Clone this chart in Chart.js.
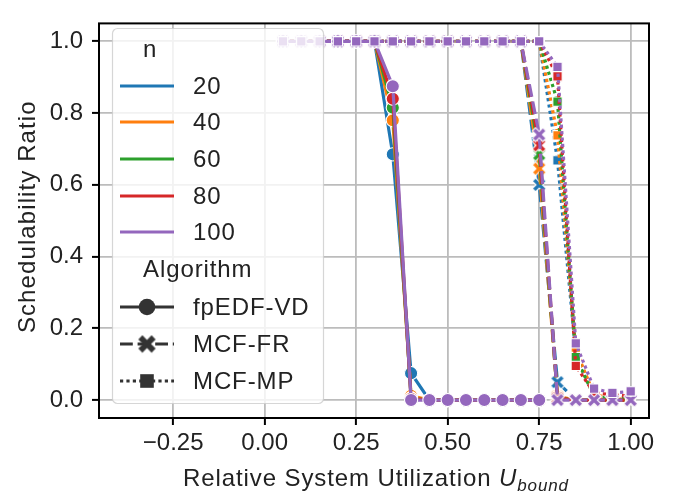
<!DOCTYPE html>
<html>
<head>
<meta charset="utf-8">
<script src="https://cdn.jsdelivr.net/npm/chart.js@4.4.0/dist/chart.umd.min.js"></script>
<style>
html,body{margin:0;padding:0;background:#fff;}
#wrap{position:relative;width:677px;height:494px;overflow:hidden;}
#c{display:block;}
#xtitle{position:absolute;left:101px;width:550px;top:466px;text-align:center;
  font-family:"Liberation Sans",Arial,sans-serif;font-size:24px;line-height:24px;color:#222;letter-spacing:0.9px;white-space:nowrap;}
#xtitle sub{font-size:17px;vertical-align:-5px;line-height:0;}
</style>
</head>
<body>
<div id="wrap">
<canvas id="c" width="677" height="494"></canvas>
<div id="xtitle">Relative System Utilization <i>U<sub>bound</sub></i></div>
</div>
<script>
// ---------------- data ----------------
const utilization = [0.05,0.10,0.15,0.20,0.25,0.30,0.35,0.40,0.45,0.50,0.55,0.60,0.65,0.70,0.75,0.80,0.85,0.90,0.95,1.00];
const utilizationVD = [0.05,0.10,0.15,0.20,0.25,0.30,0.35,0.40,0.45,0.50,0.55,0.60,0.65,0.70,0.75];
const nLabels = ['20','40','60','80','100'];
const algorithms = ['fpEDF-VD','MCF-FR','MCF-MP'];

// fpEDF-VD (circles, solid)
const vd20  = [1,1,1,1,1,1,0.685,0.075,0,0,0,0,0,0,0];
const vd40  = [1,1,1,1,1,1,0.780,0.012,0,0,0,0,0,0,0];
const vd60  = [1,1,1,1,1,1,0.815,0.005,0,0,0,0,0,0,0];
const vd80  = [1,1,1,1,1,1,0.840,0.004,0,0,0,0,0,0,0];
const vd100 = [1,1,1,1,1,1,0.875,0.000,0,0,0,0,0,0,0];
// MCF-FR (X markers, dashed)
const fr20  = [1,1,1,1,1,1,1,1,1,1,1,1,1,1,0.600,0.050,0,0,0,0];
const fr40  = [1,1,1,1,1,1,1,1,1,1,1,1,1,1,0.645,0.010,0,0,0,0];
const fr60  = [1,1,1,1,1,1,1,1,1,1,1,1,1,1,0.685,0.005,0,0,0,0];
const fr80  = [1,1,1,1,1,1,1,1,1,1,1,1,1,1,0.710,0.005,0,0,0,0];
const fr100 = [1,1,1,1,1,1,1,1,1,1,1,1,1,1,0.740,0.000,0,0,0,0];
// MCF-MP (squares, dotted)
const mp20  = [1,1,1,1,1,1,1,1,1,1,1,1,1,1,1,0.668,0.130,0.010,0.000,0.000];
const mp40  = [1,1,1,1,1,1,1,1,1,1,1,1,1,1,1,0.738,0.140,0.015,0.005,0.000];
const mp60  = [1,1,1,1,1,1,1,1,1,1,1,1,1,1,1,0.832,0.120,0.010,0.005,0.005];
const mp80  = [1,1,1,1,1,1,1,1,1,1,1,1,1,1,1,0.902,0.095,0.020,0.015,0.010];
const mp100 = [1,1,1,1,1,1,1,1,1,1,1,1,1,1,1,0.929,0.158,0.032,0.020,0.024];

const xTickValues = [-0.25,0,0.25,0.5,0.75,1.0];
const xTickLabels = ['\u22120.25','0.00','0.25','0.50','0.75','1.00'];
const yTickValues = [0,0.2,0.4,0.6,0.8,1.0];
const yTickLabels = ['0.0','0.2','0.4','0.6','0.8','1.0'];
const yTitle = 'Schedulability Ratio';

// ---------------- styling ----------------
const colors = ['#1f77b4','#ff7f0e','#2ca02c','#d62728','#9467bd'];
const FONT = "'Liberation Sans', Arial, sans-serif";
const TEXT = '#222';
const LW = 3.2;

function makeX(color, size, edge){
  const s = size + 4;
  const cv = document.createElement('canvas');
  cv.width = s; cv.height = s;
  const g = cv.getContext('2d');
  g.translate(s/2, s/2);
  g.rotate(Math.PI/4);
  const a = size/2*1.25, w = size*0.19;
  g.beginPath();
  g.moveTo(-w,-a); g.lineTo(w,-a); g.lineTo(w,-w); g.lineTo(a,-w); g.lineTo(a,w);
  g.lineTo(w,w); g.lineTo(w,a); g.lineTo(-w,a); g.lineTo(-w,w); g.lineTo(-a,w);
  g.lineTo(-a,-w); g.lineTo(-w,-w); g.closePath();
  g.fillStyle = color; g.fill();
  if (edge){ g.strokeStyle = '#fff'; g.lineWidth = 1.1; g.stroke(); }
  return cv;
}

const seriesMap = {
  'fpEDF-VD': [vd20, vd40, vd60, vd80, vd100],
  'MCF-FR':   [fr20, fr40, fr60, fr80, fr100],
  'MCF-MP':   [mp20, mp40, mp60, mp80, mp100]
};

const datasets = [];
let idx = 0;
nLabels.forEach((n, ci) => {
  algorithms.forEach(alg => {
    const ys = seriesMap[alg][ci];
    const xs = alg === 'fpEDF-VD' ? utilizationVD : utilization;
    const ds = {
      label: alg + ' n=' + n,
      data: xs.map((x, i) => ({x: x, y: ys[i]})),
      borderColor: colors[ci],
      backgroundColor: colors[ci],
      pointBackgroundColor: colors[ci],
      pointBorderColor: '#fff',
      pointBorderWidth: 1.1,
      borderWidth: LW,
      borderCapStyle: 'butt',
      tension: 0,
      fill: false,
      order: 100 - idx
    };
    if (alg === 'fpEDF-VD'){
      ds.pointStyle = 'circle'; ds.pointRadius = 6.6;
    } else if (alg === 'MCF-FR'){
      ds.pointStyle = makeX(colors[ci], 12, true); ds.pointRadius = 6;
      ds.borderDash = [4*LW, 1.5*LW];
    } else {
      ds.pointStyle = 'rect'; ds.pointRadius = 6.6;
      ds.borderDash = [LW, LW];
    }
    datasets.push(ds);
    idx++;
  });
});

// frame + legend + y title plugin
const framePlugin = {
  id: 'frame',
  afterDatasetsDraw(chart){
    const {ctx, chartArea:a} = chart;
    ctx.save();
    ctx.strokeStyle = '#000'; ctx.lineWidth = 2;
    ctx.strokeRect(a.left, a.top, a.right - a.left, a.bottom - a.top);
    ctx.restore();
  },
  afterDraw(chart){
    const ctx = chart.ctx;
    const a = chart.chartArea;
    ctx.save();
    // y title
    ctx.save();
    ctx.font = '24px ' + FONT;
    ctx.fillStyle = TEXT;
    ctx.letterSpacing = '1.1px';
    ctx.textAlign = 'center';
    ctx.textBaseline = 'middle';
    ctx.translate(28, (a.top + a.bottom)/2 - 4);
    ctx.rotate(-Math.PI/2);
    ctx.fillText(yTitle, 0, 0);
    ctx.restore();

    // legend box
    const L = 112, T = 28, R = 323, B = 403, rad = 5;
    ctx.beginPath();
    ctx.roundRect(L + 0.5, T + 0.5, R - L, B - T, rad);
    ctx.fillStyle = 'rgba(255,255,255,0.8)';
    ctx.fill();
    ctx.strokeStyle = 'rgba(204,204,204,0.8)';
    ctx.lineWidth = 1.2;
    ctx.stroke();

    ctx.font = '24px ' + FONT;
    ctx.fillStyle = TEXT;
    ctx.textBaseline = 'middle';
    ctx.letterSpacing = '0.9px';
    const rowY = [50, 86, 122, 159, 196, 232, 270, 307, 344, 381];
    const hx0 = 120, hx1 = 174, tx = 193;
    ctx.fillText('n', 143, rowY[0]);
    nLabels.forEach((n, i) => {
      const y = rowY[i+1];
      ctx.strokeStyle = colors[i]; ctx.lineWidth = LW; ctx.lineCap = 'butt';
      ctx.setLineDash([]);
      ctx.beginPath(); ctx.moveTo(hx0, y); ctx.lineTo(hx1, y); ctx.stroke();
      ctx.fillText(n, tx, y + 1);
    });
    ctx.fillText('Algorithm', 143, rowY[6]);
    const dark = '#333';
    const dashes = [[], [4*LW, 1.5*LW], [LW, LW]];
    algorithms.forEach((alg, i) => {
      const y = rowY[7+i];
      const cx = (hx0 + hx1)/2;
      ctx.strokeStyle = dark; ctx.lineWidth = LW;
      ctx.setLineDash(dashes[i]);
      ctx.beginPath(); ctx.moveTo(hx0, y); ctx.lineTo(hx1, y); ctx.stroke();
      ctx.setLineDash([]);
      ctx.fillStyle = dark;
      if (i === 0){
        ctx.beginPath(); ctx.arc(cx, y, 8.3, 0, Math.PI*2); ctx.fill();
      } else if (i === 1){
        const xi = makeX(dark, 15, false);
        ctx.drawImage(xi, cx - xi.width/2, y - xi.height/2);
      } else {
        ctx.fillRect(cx - 6.8, y - 6.8, 13.6, 13.6);
      }
      ctx.fillStyle = TEXT;
      ctx.fillText(alg, tx, y + 1);
    });
    ctx.restore();
  }
};

Chart.defaults.font.family = FONT;
Chart.defaults.color = TEXT;

new Chart(document.getElementById('c'), {
  type: 'line',
  data: { datasets },
  options: {
    responsive: false,
    animation: false,
    devicePixelRatio: 1,
    layout: { padding: { top: 7, right: 28, left: 0, bottom: 0 } },
    plugins: { legend: { display: false }, tooltip: { enabled: false } },
    scales: {
      x: {
        type: 'linear', min: -0.4527, max: 1.05,
        afterBuildTicks(axis){ axis.ticks = xTickValues.map(v => ({value: v})); },
        afterFit(axis){ axis.height = 494 - 418; },
        ticks: { font: { size: 24 }, color: TEXT, padding: 4, maxRotation: 0,
                 callback: (v, i) => xTickLabels[i] },
        grid: { color: '#bcbcbc', lineWidth: 1.8, tickColor: '#000', tickWidth: 2, tickLength: 7 },
        border: { display: false }
      },
      y: {
        type: 'linear', min: -0.05, max: 1.05,
        afterBuildTicks(axis){ axis.ticks = yTickValues.map(v => ({value: v})); },
        afterFit(axis){ axis.width = 99; },
        ticks: { font: { size: 24 }, color: TEXT, padding: 9,
                 callback: (v, i) => yTickLabels[i] },
        grid: { color: '#bcbcbc', lineWidth: 1.8, tickColor: '#000', tickWidth: 2, tickLength: 7 },
        border: { display: false }
      }
    }
  },
  plugins: [framePlugin]
});
</script>
</body>
</html>
